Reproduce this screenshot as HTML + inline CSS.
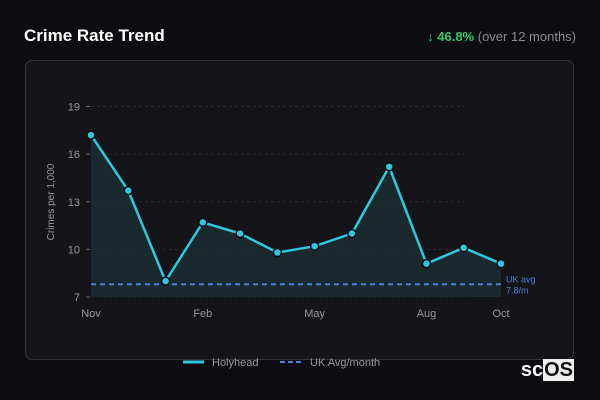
<!DOCTYPE html>
<html><head><meta charset="utf-8"><style>
body{margin:0;width:600px;height:400px;background:#0c0c11;font-family:"Liberation Sans",sans-serif;overflow:hidden;position:relative}
.t{position:absolute;left:24px;top:26px;color:#fff;font-weight:bold;font-size:17px}
.c{position:absolute;right:24px;top:29px;font-size:13px;color:#8a8a92}
.c b{color:#2ecc71}
.card{position:absolute;left:25px;top:60px;width:549px;height:300px;border:1px solid #34343a;border-radius:7px;background:#141419;box-sizing:border-box}
.logo{position:absolute;right:26px;top:359px;color:#fff;font-weight:bold;font-size:20px}
.logo span{background:#eee;color:#111;padding:0 1px}
</style></head><body>
<div class="t">Crime Rate Trend</div>
<div class="c"><b>↓ 46.8%</b> (over 12 months)</div>
<div class="card"></div>
<svg id="s" width="600" height="400" style="position:absolute;left:0;top:0"></svg>
<div class="logo">sc<span>OS</span></div>
<script>
const months=["Nov","Dec","Jan","Feb","Mar","Apr","May","Jun","Jul","Aug","Sep","Oct"];
const values=[17.2,13.7,8.0,11.7,11.0,9.8,10.2,11.0,15.2,9.1,10.1,9.1];
const ukAvg=7.8;
const yTicks=[7,10,13,16,19];
const xLabels=["Nov","Feb","May","Aug","Oct"];
const NS="http://www.w3.org/2000/svg",s=document.getElementById('s');
const x0=91,x1=501,y0=297,y1=106.5;
const X=i=>x0+i*(x1-x0)/(months.length-1);
const Y=v=>y0-(v-7)*(y0-y1)/12;
function mk(t,a,txt){const e=document.createElementNS(NS,t);for(const k in a)e.setAttribute(k,a[k]);if(txt!=null)e.textContent=txt;s.appendChild(e);return e;}
yTicks.forEach(v=>{
 const g=mk('line',{x1:91,x2:465,y1:Y(v),y2:Y(v),stroke:'#2a2a30','stroke-dasharray':'3,3'});
 
 const tk=mk('line',{x1:86,x2:90,y1:Y(v),y2:Y(v),stroke:'#666'});
 
 const t=mk('text',{x:80,y:Y(v)+4,'text-anchor':'end',fill:'#999','font-size':11},v);
 
});
xLabels.forEach(m=>{const t=mk('text',{x:X(months.indexOf(m)),y:317,'text-anchor':'middle',fill:'#999','font-size':11},m);
 });
const yt=mk('text',{transform:'translate(54,202) rotate(-90)','text-anchor':'middle',fill:'#999','font-size':10},'Crimes per 1,000');

let pts=values.map((v,i)=>X(i)+','+Y(v)).join(' ');
const ar=mk('polygon',{points:X(0)+','+y0+' '+pts+' '+X(values.length-1)+','+y0,fill:'#1a2b31',opacity:0.9});

const uk=mk('line',{x1:91,x2:501,y1:Y(ukAvg),y2:Y(ukAvg),stroke:'#4a80e0','stroke-width':2,'stroke-dasharray':'5,4'});

const u1=mk('text',{x:506,y:Y(ukAvg)-2,fill:'#4a80e0','font-size':9},'UK avg');

const u2=mk('text',{x:506,y:Y(ukAvg)+9,fill:'#4a80e0','font-size':9},'7.8/m');

const ln=mk('polyline',{points:pts,fill:'none',stroke:'#2ec8e0','stroke-width':2.5,'stroke-linejoin':'round'});

values.forEach((v,i)=>{const c=mk('circle',{cx:X(i),cy:Y(v),r:4,fill:'#2ec8e0',stroke:'#0c0c11','stroke-width':1.5});
 });
const l1=mk('line',{x1:183,x2:204,y1:362,y2:362,stroke:'#2ec8e0','stroke-width':3});

const lt1=mk('text',{x:212,y:366,fill:'#999','font-size':11},'Holyhead');

const l2=mk('line',{x1:280,x2:303,y1:362,y2:362,stroke:'#4a80e0','stroke-width':2,'stroke-dasharray':'5,3'});

const lt2=mk('text',{x:310,y:366,fill:'#999','font-size':11},'UK Avg/month');

</script>
</body></html>
